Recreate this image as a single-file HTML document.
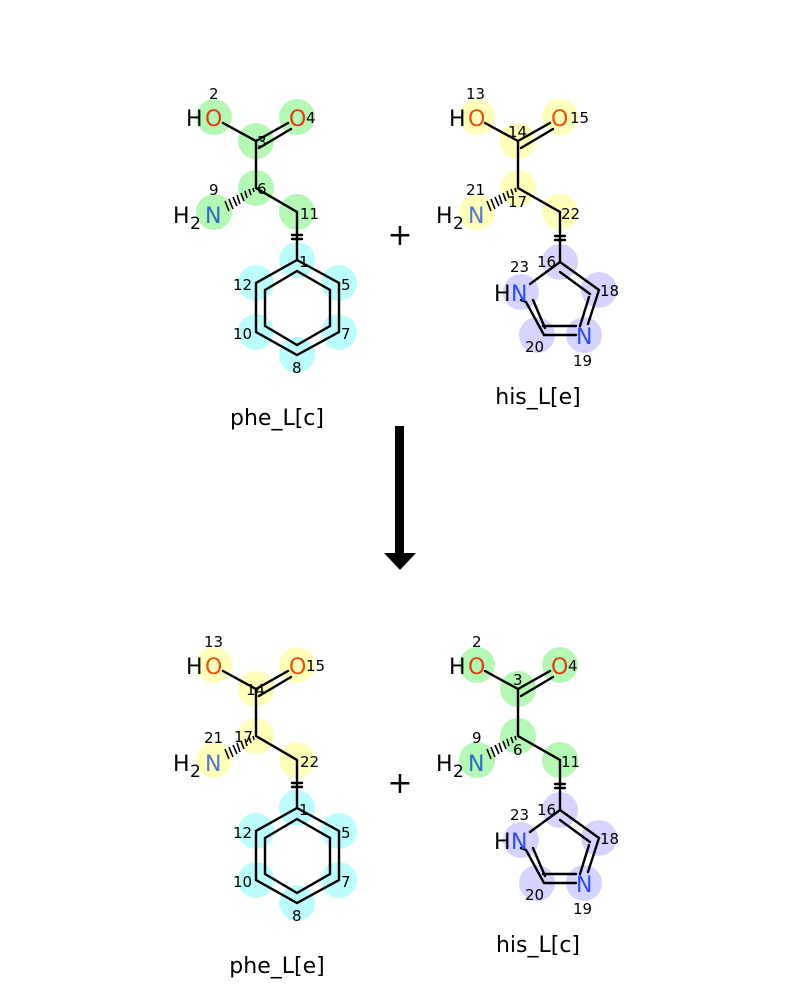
<!DOCTYPE html>
<html><head><meta charset="utf-8"><style>
html,body{margin:0;padding:0;background:#fff;}
svg{display:block;}
text{font-family:"DejaVu Sans","Liberation Sans",sans-serif;}
.b{stroke:#000;stroke-width:2.4;fill:none;stroke-linecap:round;}
.i{font-size:15px;fill:#000;}
.a{font-size:22px;}
</style></head><body>
<svg width="800" height="1000" viewBox="0 0 800 1000" xmlns="http://www.w3.org/2000/svg">

<g fill="#b5f7b5">
 <circle cx="214" cy="117" r="18"/><circle cx="297" cy="117" r="18"/>
 <circle cx="256" cy="141" r="18"/><circle cx="256" cy="188" r="18"/>
 <circle cx="214" cy="212" r="18"/><circle cx="297" cy="212" r="18"/>
</g>
<g fill="#bcfcfc">
 <circle cx="297" cy="260" r="18"/><circle cx="339" cy="283" r="18"/>
 <circle cx="256" cy="283" r="18"/><circle cx="256" cy="332" r="18"/>
 <circle cx="339" cy="332" r="18"/><circle cx="297" cy="355" r="18"/>
</g>
<g fill="#ffffbb" transform="translate(0,548)">
 <circle cx="214" cy="117" r="18"/><circle cx="297" cy="117" r="18"/>
 <circle cx="256" cy="141" r="18"/><circle cx="256" cy="188" r="18"/>
 <circle cx="214" cy="212" r="18"/><circle cx="297" cy="212" r="18"/>
</g>
<g fill="#bcfcfc" transform="translate(0,548)">
 <circle cx="297" cy="260" r="18"/><circle cx="339" cy="283" r="18"/>
 <circle cx="256" cy="283" r="18"/><circle cx="256" cy="332" r="18"/>
 <circle cx="339" cy="332" r="18"/><circle cx="297" cy="355" r="18"/>
</g>

<g fill="#ffffbb">
 <circle cx="477" cy="117" r="18"/><circle cx="560" cy="117" r="18"/>
 <circle cx="518" cy="141" r="18"/><circle cx="518" cy="188" r="18"/>
 <circle cx="477" cy="212" r="18"/><circle cx="560" cy="212" r="18"/>
</g>
<g fill="#d4d4ff">
 <circle cx="560" cy="262" r="18"/><circle cx="521" cy="292" r="18"/>
 <circle cx="599" cy="290" r="18"/><circle cx="537" cy="335" r="18"/>
 <circle cx="584" cy="335" r="18"/>
</g>
<g fill="#b5f7b5" transform="translate(0,548)">
 <circle cx="477" cy="117" r="18"/><circle cx="560" cy="117" r="18"/>
 <circle cx="518" cy="141" r="18"/><circle cx="518" cy="188" r="18"/>
 <circle cx="477" cy="212" r="18"/><circle cx="560" cy="212" r="18"/>
</g>
<g fill="#d4d4ff" transform="translate(0,548)">
 <circle cx="560" cy="262" r="18"/><circle cx="521" cy="292" r="18"/>
 <circle cx="599" cy="290" r="18"/><circle cx="537" cy="335" r="18"/>
 <circle cx="584" cy="335" r="18"/>
</g>

<g class="b">
 <g>
  <path d="M223,123 L256,141 L288,123 M259,148 L291,129 M256,141 L256,188 L297,212 L297,260"/>
  <path d="M292,235 H302 M292,239 H302"/>
  <path d="M297,260 L339,283 L339,332 L297,355 L256,332 L256,283 Z"/>
  <path d="M297,271 L330,290 L330,326 L297,345 L265,326 L265,290 Z"/>
 </g>
 <g transform="translate(0,548)">
  <path d="M223,123 L256,141 L288,123 M259,148 L291,129 M256,141 L256,188 L297,212 L297,260"/>
  <path d="M292,235 H302 M292,239 H302"/>
  <path d="M297,260 L339,283 L339,332 L297,355 L256,332 L256,283 Z"/>
  <path d="M297,271 L330,290 L330,326 L297,345 L265,326 L265,290 Z"/>
 </g>
</g>
<g stroke="#000" stroke-width="1.6">
 <path d="M253,188 L254,192 M249,189 L251,195 M245,191 L247,198 M241,193 L244,201 M237,195 L240,204 M233,197 L237,206 M229,199 L233,209 M225,201 L229,211"/>
 <path transform="translate(0,548)" d="M253,188 L254,192 M249,189 L251,195 M245,191 L247,198 M241,193 L244,201 M237,195 L240,204 M233,197 L237,206 M229,199 L233,209 M225,201 L229,211"/>
</g>

<g class="b">
 <g>
  <path d="M485,123 L518,141 L550,123 M521,148 L553,129 M518,141 L518,188 L560,212 L560,262"/>
  <path d="M555,236 H565 M555,240 H565"/>
  <path d="M560,262 L530,284 M560,262 L599,290 L588,324 M576,335 L544,335 L526,302 L521,300"/>
  <path d="M560,272 L590,294 M589,297 L580,326 M576,326 L543,326 M533,300 L545,328"/>
 </g>
 <g transform="translate(0,548)">
  <path d="M485,123 L518,141 L550,123 M521,148 L553,129 M518,141 L518,188 L560,212 L560,262"/>
  <path d="M555,236 H565 M555,240 H565"/>
  <path d="M560,262 L530,284 M560,262 L599,290 L588,324 M576,335 L544,335 L526,302 L521,300"/>
  <path d="M560,272 L590,294 M589,297 L580,326 M576,326 L543,326 M533,300 L545,328"/>
 </g>
</g>
<g stroke="#000" stroke-width="1.6">
 <path d="M515,188 L516,192 M511,189 L513,195 M507,191 L509,198 M503,193 L506,201 M499,195 L502,204 M495,197 L499,206 M491,199 L495,209 M487,201 L491,211"/>
 <path transform="translate(0,548)" d="M515,188 L516,192 M511,189 L513,195 M507,191 L509,198 M503,193 L506,201 M499,195 L502,204 M495,197 L499,206 M491,199 L495,209 M487,201 L491,211"/>
</g>

<g>
 <g>
  <text x="186" y="126" class="a">H</text><text x="205" y="126" class="a" fill="#e03c10">O</text>
  <text x="289" y="126" class="a" fill="#e03c10">O</text><text x="306" y="123" class="i">4</text>
  <text x="209" y="99" class="i">2</text>
  <text x="257" y="147" class="i">3</text>
  <text x="257" y="194" class="i">6</text>
  <text x="209" y="195" class="i">9</text>
  <text x="173" y="223" class="a">H</text><text x="190" y="229" class="a" style="font-size:17px">2</text><text x="205" y="223" class="a" fill="#2a6fbf">N</text>
  <text x="300" y="219" class="i">11</text>
  <text x="299" y="267" class="i">1</text>
  <text x="341" y="290" class="i">5</text>
  <text x="233" y="290" class="i">12</text>
  <text x="233" y="339" class="i">10</text>
  <text x="341" y="339" class="i">7</text>
  <text x="292" y="373" class="i">8</text>
  <text x="277" y="425" font-size="22" text-anchor="middle">phe_L[c]</text>
 </g>
 <g>
  <text x="186" y="674" class="a">H</text><text x="205" y="674" class="a" fill="#e8500c">O</text>
  <text x="289" y="674" class="a" fill="#e8500c">O</text><text x="306" y="671" class="i">15</text>
  <text x="204" y="647" class="i">13</text>
  <text x="246" y="695" class="i">14</text>
  <text x="234" y="742" class="i">17</text>
  <text x="204" y="743" class="i">21</text>
  <text x="173" y="771" class="a">H</text><text x="190" y="777" class="a" style="font-size:17px">2</text><text x="205" y="771" class="a" fill="#5577cc">N</text>
  <text x="300" y="767" class="i">22</text>
  <text x="299" y="815" class="i">1</text>
  <text x="341" y="838" class="i">5</text>
  <text x="233" y="838" class="i">12</text>
  <text x="233" y="887" class="i">10</text>
  <text x="341" y="887" class="i">7</text>
  <text x="292" y="921" class="i">8</text>
  <text x="277" y="973" font-size="22" text-anchor="middle">phe_L[e]</text>
 </g>
</g>

<g>
 <g>
  <text x="449" y="126" class="a">H</text><text x="468" y="126" class="a" fill="#e8500c">O</text>
  <text x="551" y="126" class="a" fill="#e8500c">O</text><text x="570" y="123" class="i">15</text>
  <text x="466" y="99" class="i">13</text>
  <text x="508" y="137" class="i">14</text>
  <text x="508" y="207" class="i">17</text>
  <text x="466" y="195" class="i">21</text>
  <text x="436" y="223" class="a">H</text><text x="453" y="229" class="a" style="font-size:17px">2</text><text x="468" y="223" class="a" fill="#5577cc">N</text>
  <text x="561" y="219" class="i">22</text>
  <text x="537" y="267" class="i">16</text>
  <text x="510" y="272" class="i">23</text>
  <text x="494" y="301" class="a">H</text><text x="511" y="301" class="a" fill="#2f4cf0">N</text>
  <text x="600" y="296" class="i">18</text>
  <text x="576" y="344" class="a" fill="#2f4cf0">N</text>
  <text x="573" y="366" class="i">19</text>
  <text x="525" y="352" class="i">20</text>
  <text x="538" y="404" font-size="22" text-anchor="middle">his_L[e]</text>
 </g>
 <g>
  <text x="449" y="674" class="a">H</text><text x="468" y="674" class="a" fill="#e03c10">O</text>
  <text x="551" y="674" class="a" fill="#e03c10">O</text><text x="568" y="671" class="i">4</text>
  <text x="472" y="647" class="i">2</text>
  <text x="513" y="685" class="i">3</text>
  <text x="513" y="755" class="i">6</text>
  <text x="472" y="743" class="i">9</text>
  <text x="436" y="771" class="a">H</text><text x="453" y="777" class="a" style="font-size:17px">2</text><text x="468" y="771" class="a" fill="#2a6fbf">N</text>
  <text x="561" y="767" class="i">11</text>
  <text x="537" y="815" class="i">16</text>
  <text x="510" y="820" class="i">23</text>
  <text x="494" y="849" class="a">H</text><text x="511" y="849" class="a" fill="#2f4cf0">N</text>
  <text x="600" y="844" class="i">18</text>
  <text x="576" y="892" class="a" fill="#2f4cf0">N</text>
  <text x="573" y="914" class="i">19</text>
  <text x="525" y="900" class="i">20</text>
  <text x="538" y="952" font-size="22" text-anchor="middle">his_L[c]</text>
 </g>
</g>

<text x="400" y="245" font-size="30" text-anchor="middle">+</text>
<text x="400" y="793" font-size="30" text-anchor="middle">+</text>

<rect x="395" y="426" width="9" height="128" fill="#000"/>
<polygon points="384,553 416,553 400,570" fill="#000"/>
</svg>
</body></html>
